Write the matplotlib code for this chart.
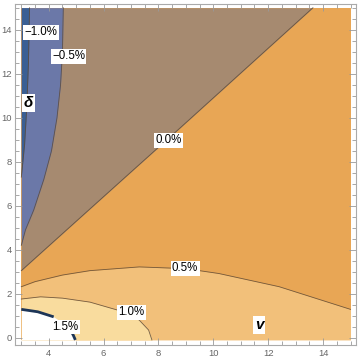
import matplotlib
matplotlib.use("Agg")
import matplotlib.pyplot as plt
from matplotlib.ticker import MultipleLocator

plt.rcParams['font.family'] = ['Liberation Sans', 'DejaVu Sans']

# plotted region
V_RANGE = [3.0, 15.0]
D_RANGE = [-0.1, 15.0]

# contour lines (v, delta)
m10_d = [15.0, 12.5, 10.5, 8.8, 7.3]
m10_v = [3.30, 3.26, 3.20, 3.12, 3.0]

m05_d = [15.0, 13.0, 11.5, 10.0, 8.5, 7.2, 5.8, 4.9, 4.2]
m05_v = [4.53, 4.50, 4.43, 4.30, 4.10, 3.82, 3.45, 3.15, 3.0]

z00_v = [3.0, 6.7, 8.8, 13.63]
z00_d = [3.05, 7.2, 9.55, 15.0]

p05_v = [3.0, 3.5, 4.5, 5.5, 7.3, 9.0, 10.2, 12.4, 15.0]
p05_d = [2.32, 2.55, 2.85, 3.05, 3.22, 3.14, 2.92, 2.32, 1.29]

p10_v = [3.0, 3.7, 4.5, 5.5, 6.5, 7.0, 7.3, 7.64, 7.76]
p10_d = [1.76, 1.86, 1.80, 1.62, 1.26, 1.05, 0.8, 0.35, -0.1]

p15_v = [3.0, 3.6, 4.18, 4.55, 4.8, 4.9, 4.97]
p15_d = [1.29, 1.18, 0.95, 0.65, 0.35, 0.1, -0.1]

# contour labels
labels = ["\u22121.0%", "\u22120.5%", "0.0%", "0.5%", "1.0%", "1.5%"]
label_v = [3.72, 4.72, 8.36, 8.97, 7.01, 4.61]
label_d = [13.88, 12.8, 8.98, 3.16, 1.16, 0.49]

colors = {
    "m10": "#3a5f94",
    "m05": "#6b78a8",
    "z00": "#a68a70",
    "p00": "#e8a655",
    "p05": "#f2c07a",
    "p10": "#f9dc9e",
    "p15": "white",
}
line_c = "#5e4a36"

fig = plt.figure(figsize=(3.6, 3.62), dpi=100)
ax = fig.add_axes([15 / 360, 17 / 362, 341 / 360, 341 / 362])

# base band 0..0.5%
ax.fill_between(V_RANGE, D_RANGE[0], D_RANGE[1], color=colors["p00"], lw=0)
# -0.5..0 band above the zero line
ax.fill_between(z00_v, z00_d, D_RANGE[1], color=colors["z00"], lw=0)
ax.fill_betweenx(m05_d, V_RANGE[0], m05_v, color=colors["m05"], lw=0)
ax.fill_betweenx(m10_d, V_RANGE[0], m10_v, color=colors["m10"], lw=0)
# positive bands at the bottom
ax.fill_between(p05_v, D_RANGE[0], p05_d, color=colors["p05"], lw=0)
ax.fill_between(p10_v, D_RANGE[0], p10_d, color=colors["p10"], lw=0)
ax.fill_between(p15_v, D_RANGE[0], p15_d, color=colors["p15"], lw=0)

for cv, cd in [(m10_v, m10_d), (m05_v, m05_d), (z00_v, z00_d),
               (p05_v, p05_d), (p10_v, p10_d)]:
    ax.plot(cv, cd, color=line_c, lw=0.6, alpha=0.85)
ax.plot(p15_v[:3], p15_d[:3], color="#1d3557", lw=2.0, solid_capstyle="butt")
ax.plot(p15_v[-3:], p15_d[-3:], color="#1d3557", lw=2.0, solid_capstyle="butt")

for t, x, y in zip(labels, label_v, label_d):
    ax.text(x, y, t, ha="center", va="center", fontsize=8.3, color="black",
            bbox=dict(boxstyle="square,pad=0.12", fc="white", ec="none"), zorder=5)

ax.text(3.26, 10.67, "\u03b4", ha="center", va="center", fontsize=11,
        fontweight="bold", fontstyle="italic",
        bbox=dict(boxstyle="square,pad=0.1", fc="white", ec="none"), zorder=5)
ax.text(11.67, 0.58, "v", ha="center", va="center", fontsize=11,
        fontweight="bold", fontstyle="italic",
        bbox=dict(boxstyle="square,pad=0.1", fc="white", ec="none"), zorder=5)

ax.set_xlim(2.77, 15.2)
ax.set_ylim(-0.33, 15.17)
ax.xaxis.set_major_locator(MultipleLocator(2))
ax.yaxis.set_major_locator(MultipleLocator(2))
ax.xaxis.set_minor_locator(MultipleLocator(0.5))
ax.yaxis.set_minor_locator(MultipleLocator(0.5))
ax.tick_params(which="both", direction="in", top=True, right=True,
               color="#999999", width=0.6, labelcolor="#666666", labelsize=6.8)
ax.tick_params(which="major", length=5)
ax.tick_params(which="minor", length=3)
ax.tick_params(axis="y", pad=2)
ax.tick_params(axis="x", pad=3)
for s in ax.spines.values():
    s.set_color("#aaaaaa")
    s.set_linewidth(0.8)

fig.savefig("out.png", dpi=100)
